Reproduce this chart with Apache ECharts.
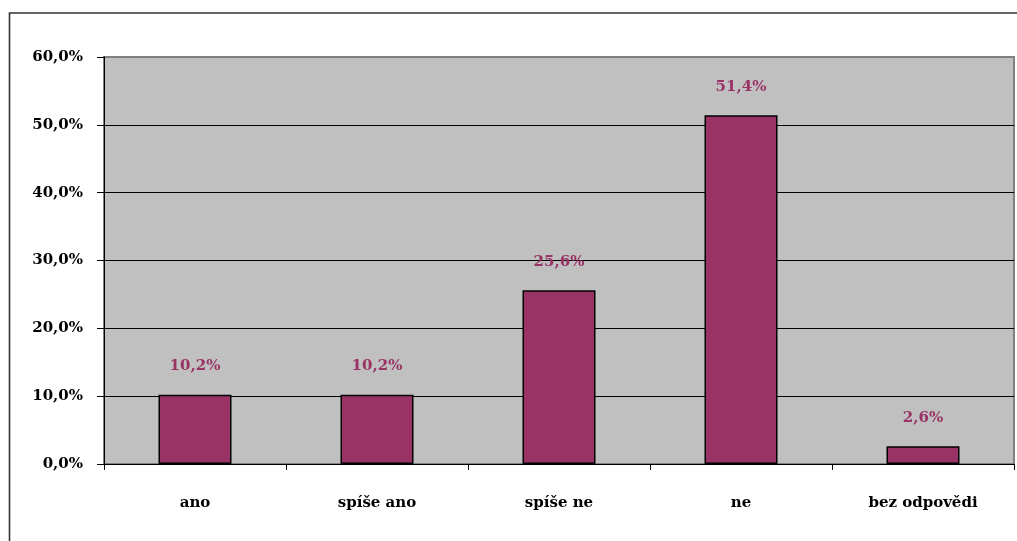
<!DOCTYPE html>
<html>
<head>
<meta charset="utf-8">
<script src="https://cdn.jsdelivr.net/npm/echarts@6/dist/echarts.min.js"></script>
<style>
  html, body { margin: 0; padding: 0; background: #ffffff; }
  #chart { width: 1017px; height: 541px; }
</style>
</head>
<body>
<div id="chart"></div>
<script>
// Answer categories and their shares (percent)
const categories = ['ano', 'spíše ano', 'spíše ne', 'ne', 'bez odpovědi'];
const shares = [10.2, 10.2, 25.6, 51.4, 2.6];
// Value axis range
const yMin = 0;
const yMax = 60;
const yStep = 10;

const fmt = v => v.toFixed(1).replace('.', ',') + '%';
const font = '"DejaVu Serif", serif';

const chart = echarts.init(document.getElementById('chart'), null, { renderer: 'canvas' });

chart.setOption({
  animation: false,
  backgroundColor: '#ffffff',
  graphic: [{
    type: 'rect',
    shape: { x: 9.5, y: 13, width: 1100, height: 600 },
    style: { fill: 'none', stroke: '#333333', lineWidth: 1.6 },
    z: 0
  }],
  grid: {
    left: 104, top: 57, right: 3, bottom: 77,
    show: true,
    backgroundColor: '#c0c0c0',
    borderColor: '#808080',
    borderWidth: 2
  },
  xAxis: {
    type: 'category',
    data: categories,
    axisLine: { lineStyle: { color: '#000000', width: 1 } },
    axisTick: { show: true, length: 6, lineStyle: { color: '#000000' } },
    axisLabel: {
      margin: 32,
      color: '#000000',
      fontFamily: font,
      fontWeight: 'bold',
      fontSize: 15
    }
  },
  yAxis: {
    type: 'value',
    min: yMin, max: yMax, interval: yStep,
    axisLine: { show: true, lineStyle: { color: '#000000', width: 1 } },
    axisTick: { show: true, length: 7, lineStyle: { color: '#000000' } },
    splitLine: {
      show: true,
      lineStyle: {
        color: ['#000000', '#000000', '#000000', '#000000', '#000000', '#000000', '#808080'],
        width: 1
      }
    },
    axisLabel: {
      margin: 21,
      color: '#000000',
      fontFamily: font,
      fontWeight: 'bold',
      fontSize: 15,
      formatter: v => fmt(v)
    }
  },
  series: [{
    type: 'bar',
    data: shares,
    barWidth: 73,
    itemStyle: { color: '#993366', borderColor: '#000000', borderWidth: 1.5 },
    label: {
      show: true,
      position: 'top',
      distance: 21,
      color: '#993366',
      fontFamily: font,
      fontWeight: 'bold',
      fontSize: 15,
      formatter: p => fmt(p.value)
    }
  }]
});
</script>
</body>
</html>
